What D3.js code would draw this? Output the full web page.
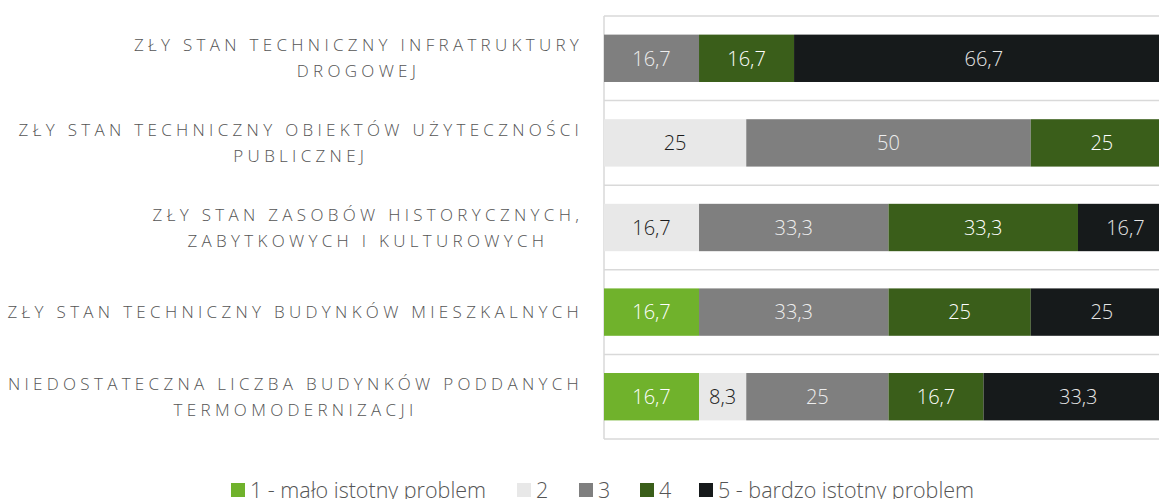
<!DOCTYPE html>
<html><head><meta charset="utf-8">
<script src="https://cdn.jsdelivr.net/npm/d3@7"></script>
<style>body{margin:0;background:#fff;overflow:hidden}</style>
</head><body>
<svg id="chart" width="1159" height="499"></svg>
<script>
const categories = [
  ["ZŁY STAN TECHNICZNY INFRATRUKTURY", "DROGOWEJ"],
  ["ZŁY STAN TECHNICZNY OBIEKTÓW UŻYTECZNOŚCI", "PUBLICZNEJ"],
  ["ZŁY STAN ZASOBÓW HISTORYCZNYCH,", "ZABYTKOWYCH I KULTUROWYCH"],
  ["ZŁY STAN TECHNICZNY BUDYNKÓW MIESZKALNYCH"],
  ["NIEDOSTATECZNA LICZBA BUDYNKÓW PODDANYCH", "TERMOMODERNIZACJI"]
];
const seriesNames = ["1 - mało istotny problem", "2", "3", "4", "5 - bardzo istotny problem"];
const s1 = [0, 0, 0, 16.7, 16.7];
const s2 = [0, 25, 16.7, 0, 8.3];
const s3 = [16.7, 50, 33.3, 33.3, 25];
const s4 = [16.7, 25, 33.3, 25, 16.7];
const s5 = [66.7, 0, 16.7, 25, 33.3];
const seriesValues = [s1, s2, s3, s4, s5];
const colors = ["#70b22c", "#e8e8e8", "#7f7f7f", "#3a5e1a", "#161a1b"];
const labelColors = ["#ffffff", "#1a1a1a", "#eeeeee", "#ffffff", "#e6e6e6"];

const svg = d3.select("#chart");
const pLeft = 604, pRight = 1173, pTop = 16, pBottom = 439;
const x = d3.scaleLinear().domain([0, 100]).range([pLeft, pRight]);
const y = d3.scaleBand().domain(d3.range(categories.length)).range([pTop, pBottom]).paddingInner(0.44).paddingOuter(0.22);

const sepY = d3.range(categories.length + 1).map(i => pTop + i * (pBottom - pTop) / categories.length);
svg.selectAll(".sep").data(sepY).enter().append("line")
  .attr("x1", pLeft).attr("x2", 1159).attr("y1", d => d).attr("y2", d => d)
  .attr("stroke", "#d9d9d9").attr("stroke-width", 1.5);
svg.append("line").attr("x1", pLeft).attr("x2", pLeft).attr("y1", pTop).attr("y2", pBottom)
  .attr("stroke", "#d9d9d9").attr("stroke-width", 1.5);

const table = categories.map((c, i) => {
  const row = {i};
  seriesNames.forEach((s, k) => row[k] = seriesValues[k][i]);
  return row;
});
const stack = d3.stack().keys(d3.range(5))(table);

stack.forEach((layer, k) => {
  const g = svg.append("g");
  layer.forEach((d, i) => {
    const w = x(d[1]) - x(d[0]);
    if (w <= 0) return;
    g.append("rect").attr("x", x(d[0])).attr("y", y(i)).attr("width", w).attr("height", y.bandwidth())
      .attr("fill", colors[k]);
    g.append("text").attr("x", (x(d[0]) + x(d[1])) / 2).attr("y", y(i) + y.bandwidth() / 2)
      .attr("dy", "0.36em").attr("text-anchor", "middle")
      .attr("font-family", "Open Sans").attr("font-size", 20).attr("font-weight", 300)
      .attr("fill", labelColors[k])
      .text(String(seriesValues[k][i]).replace(".", ","));
  });
});

const LS = 4.3;
categories.forEach((lines, i) => {
  const cy = y(i) + y.bandwidth() / 2;
  const lh = 26;
  const g = svg.append("g");
  const texts = lines.map((l, j) => g.append("text")
    .attr("font-family", "Open Sans").attr("font-size", 17).attr("font-weight", 300)
    .attr("letter-spacing", LS + "px").attr("fill", "#555555")
    .attr("text-anchor", "middle")
    .attr("y", cy + (j - (lines.length - 1) / 2) * lh).attr("dy", "0.36em")
    .text(l));
  const maxW = d3.max(texts, t => t.node().getComputedTextLength());
  texts.forEach(t => t.attr("x", 581 + LS / 2 - maxW / 2));
});

const legX = [231, 517, 579, 640, 699];
const lg = svg.append("g");
seriesNames.forEach((s, k) => {
  lg.append("rect").attr("x", legX[k]).attr("y", 483).attr("width", 14).attr("height", 14).attr("fill", colors[k]);
  lg.append("text").attr("x", legX[k] + 19).attr("y", 497.5)
    .attr("font-family", "Open Sans").attr("font-size", 21.5).attr("font-weight", 300).attr("fill", "#555555")
    .text(s);
});
</script>
</body></html>
